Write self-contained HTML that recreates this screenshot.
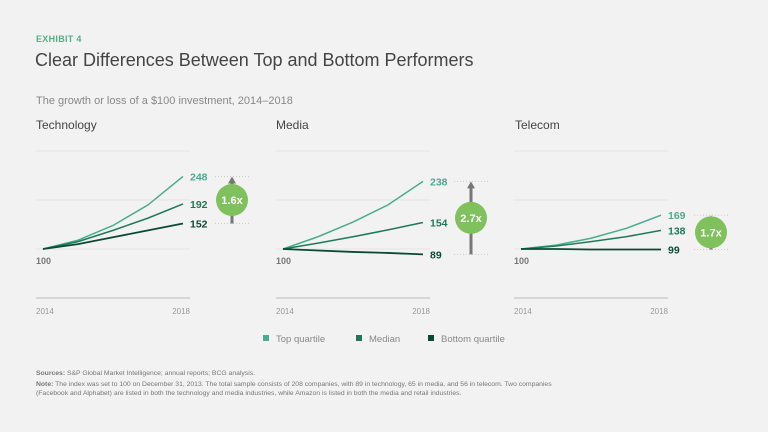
<!DOCTYPE html>
<html><head><meta charset="utf-8">
<style>
body{margin:0;background:#f2f2f2;font-family:"Liberation Sans",sans-serif;}
#wrap{position:relative;width:768px;height:432px;overflow:hidden;background:#f2f2f2}
.t{position:absolute;white-space:nowrap}
</style></head><body>
<div id="wrap">
<div class="t" style="left:36px;top:34px;font-size:9px;font-weight:bold;color:#4fb383;letter-spacing:0.3px">EXHIBIT 4</div>
<div class="t" style="left:35px;top:50px;font-size:18px;color:#444">Clear Differences Between Top and Bottom Performers</div>
<div class="t" style="left:36px;top:95px;font-size:11px;color:#888">The growth or loss of a $100 investment, 2014–2018</div>
<div class="t" style="left:36px;top:118px;font-size:12px;color:#444">Technology</div>
<div class="t" style="left:276px;top:118px;font-size:12px;color:#444">Media</div>
<div class="t" style="left:515px;top:118px;font-size:12px;color:#444">Telecom</div>
<svg id="chart" width="768" height="432" style="position:absolute;left:0;top:0"></svg>
<div class="t" style="left:36px;top:370px;font-size:6.8px;color:#777"><b>Sources:</b> S&amp;P Global Market Intelligence; annual reports; BCG analysis.</div>
<div class="t" style="left:36px;top:381px;font-size:6.8px;color:#777;line-height:8.5px"><b>Note:</b> The index was set to 100 on December 31, 2013. The total sample consists of 208 companies, with 89 in technology, 65 in media, and 56 in telecom. Two companies<br>(Facebook and Alphabet) are listed in both the technology and media industries, while Amazon is listed in both the media and retail industries.</div>
</div>
<script>
const years=["2014","2018"];
const gridVals=[100,200,300];
const seriesNames=["Top quartile","Median","Bottom quartile"];
const techTop=[100,118,148,190,248];
const techMed=[100,115,138,163,192];
const techBot=[100,110,124,138,152];
const mediaTop=[100,125,155,190,238];
const mediaMed=[100,112,125,139,154];
const mediaBot=[100,97,94,92,89];
const telTop=[100,108,122,142,169];
const telMed=[100,106,115,125,138];
const telBot=[100,100,99,99,99];
const multiples=["1.6x","2.7x","1.7x"];
const colors=["#47ad8e","#1d7a58","#0a4a32"];
const panels=[
 {name:"technology",x0:36,x1:190,s:[techTop,techMed,techBot],bx:232},
 {name:"media",x0:276,x1:430,s:[mediaTop,mediaMed,mediaBot],bx:471},
 {name:"telecom",x0:514,x1:668,s:[telTop,telMed,telBot],bx:711}
];
const svg=document.getElementById('chart');
const NS="http://www.w3.org/2000/svg";
function el(t,a,p){const e=document.createElementNS(NS,t);for(const k in a)e.setAttribute(k,a[k]);(p||svg).appendChild(e);return e;}
const y=v=>249-(v-100)*0.49;
panels.forEach((p,pi)=>{
 const g=el('g',{});
 
 
 const a=p.x0+7,bEnd=p.x1-7;
 const x=i=>a+(bEnd-a)*i/4;
 gridVals.forEach(v=>{
  const l=el('line',{x1:p.x0,x2:p.x1,y1:y(v),y2:y(v),stroke:'#e4e4e4','stroke-width':1},g);
  
  
 });
 const ax=el('line',{x1:p.x0,x2:p.x1,y1:y(0),y2:y(0),stroke:'#bbb','stroke-width':1},g);
 
 
 [0,1].forEach(i=>{
  const t=el('text',{x:i?p.x1:p.x0,y:314,'font-size':8,fill:'#999','text-anchor':i?'end':'start'},g);
  t.textContent=years[i];
  
  
 });
 const b=el('text',{x:p.x0,y:264,'font-size':9,'font-weight':'bold',fill:'#777'},g);
 b.textContent="100";
 
 
 p.s.forEach((d,si)=>{
  let dd='';
  d.forEach((v,i)=>{dd+=(i?'L':'M')+x(i)+','+y(v);});
  const ln=el('path',{d:dd,fill:'none',stroke:colors[si],'stroke-width':si==2?1.8:1.5},g);
  
  
  const v=d[d.length-1];
  const tx=el('text',{x:p.x1,y:y(v)+4,'font-size':10.5,'font-weight':'bold',fill:colors[si]},g);
  tx.textContent=v;
  
  
 });
 const top=p.s[0][4],bot=p.s[2][4];
 [top,bot].forEach(v=>{
  const l=el('line',{x1:p.bx-17,x2:p.bx+18,y1:y(v),y2:y(v),stroke:'#ccc','stroke-dasharray':'1,2'},g);
  
  
 });
 const ar=el('line',{x1:p.bx,x2:p.bx,y1:y(bot),y2:y(top)+5,stroke:'#777','stroke-width':3},g);
 
 
 const ah=el('path',{d:`M${p.bx-4},${y(top)+7}L${p.bx},${y(top)}L${p.bx+4},${y(top)+7}Z`,fill:'#777'},g);
 
 
 const cy=(y(top)+y(bot))/2;
 const c=el('circle',{cx:p.bx,cy:cy,r:16,fill:'#7fc15c'},g);
 
 
 const ct=el('text',{x:p.bx,y:cy+4,'font-size':11,'font-weight':'bold',fill:'#fff','text-anchor':'middle'},g);
 ct.textContent=multiples[pi];
 
 
});
const lx=[263,356,428];
seriesNames.forEach((n,i)=>{
 const r=el('rect',{x:lx[i],y:335,width:6,height:6,fill:colors[i]});
 
 
 const t=el('text',{x:lx[i]+13,y:342,'font-size':9.5,fill:'#888'});
 t.textContent=n;
 
 
});
</script>
</body></html>
